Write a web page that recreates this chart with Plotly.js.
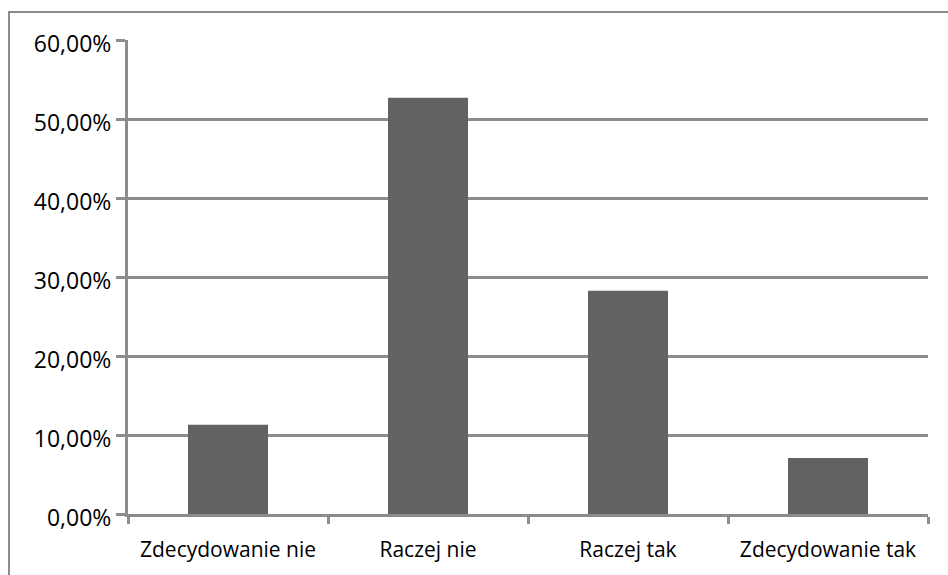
<!DOCTYPE html>
<html>
<head>
<meta charset="utf-8">
<script src="https://cdn.plot.ly/plotly-3.0.1.min.js"></script>
<style>
html,body{margin:0;padding:0;background:#fff;overflow:hidden;width:948px;height:575px;}
#frame{position:absolute;left:8px;top:11px;width:940px;height:564px;border-top:2px solid #8c8c8c;border-left:2px solid #8c8c8c;box-sizing:border-box;}
#chart{position:absolute;left:0;top:0;width:948px;height:575px;}
</style>
</head>
<body>
<div id="frame"></div>
<div id="chart"></div>
<script>
const categories = ["Zdecydowanie nie", "Raczej nie", "Raczej tak", "Zdecydowanie tak"];
const values = [0.1129, 0.5270, 0.2827, 0.0709];
const yTickValues = [0, 0.1, 0.2, 0.3, 0.4, 0.5, 0.6];

const trace = {
  type: 'bar',
  x: categories,
  y: values,
  marker: {color: '#626262', line: {width: 0}},
  hoverinfo: 'none'
};

const layout = {
  width: 948,
  height: 575,
  margin: {l: 128, r: 20, t: 40, b: 61, pad: 0},
  paper_bgcolor: 'rgba(0,0,0,0)',
  plot_bgcolor: 'rgba(0,0,0,0)',
  separators: ', ',
  showlegend: false,
  bargap: 0.6,
  font: {family: 'Open Sans, sans-serif', color: '#000'},
  xaxis: {
    type: 'category',
    tickson: 'boundaries',
    ticks: 'outside',
    ticklen: 7,
    tickwidth: 3,
    tickcolor: '#8c8c8c',
    showline: true,
    linecolor: '#8c8c8c',
    linewidth: 3,
    showgrid: false,
    ticklabelstandoff: 15,
    tickfont: {size: 21, color: '#000'},
    fixedrange: true
  },
  yaxis: {
    range: [0, 0.6],
    tickvals: yTickValues,
    tickformat: '.2%',
    ticks: 'outside',
    ticklen: 9,
    tickwidth: 3,
    tickcolor: '#8c8c8c',
    showline: true,
    linecolor: '#8c8c8c',
    linewidth: 3,
    showgrid: true,
    gridcolor: '#8c8c8c',
    gridwidth: 3,
    zeroline: false,
    ticklabelshift: 4,
    tickfont: {size: 23, color: '#000'},
    fixedrange: true
  }
};

Plotly.newPlot('chart', [trace], layout, {displayModeBar: false, staticPlot: true});
</script>
</body>
</html>
